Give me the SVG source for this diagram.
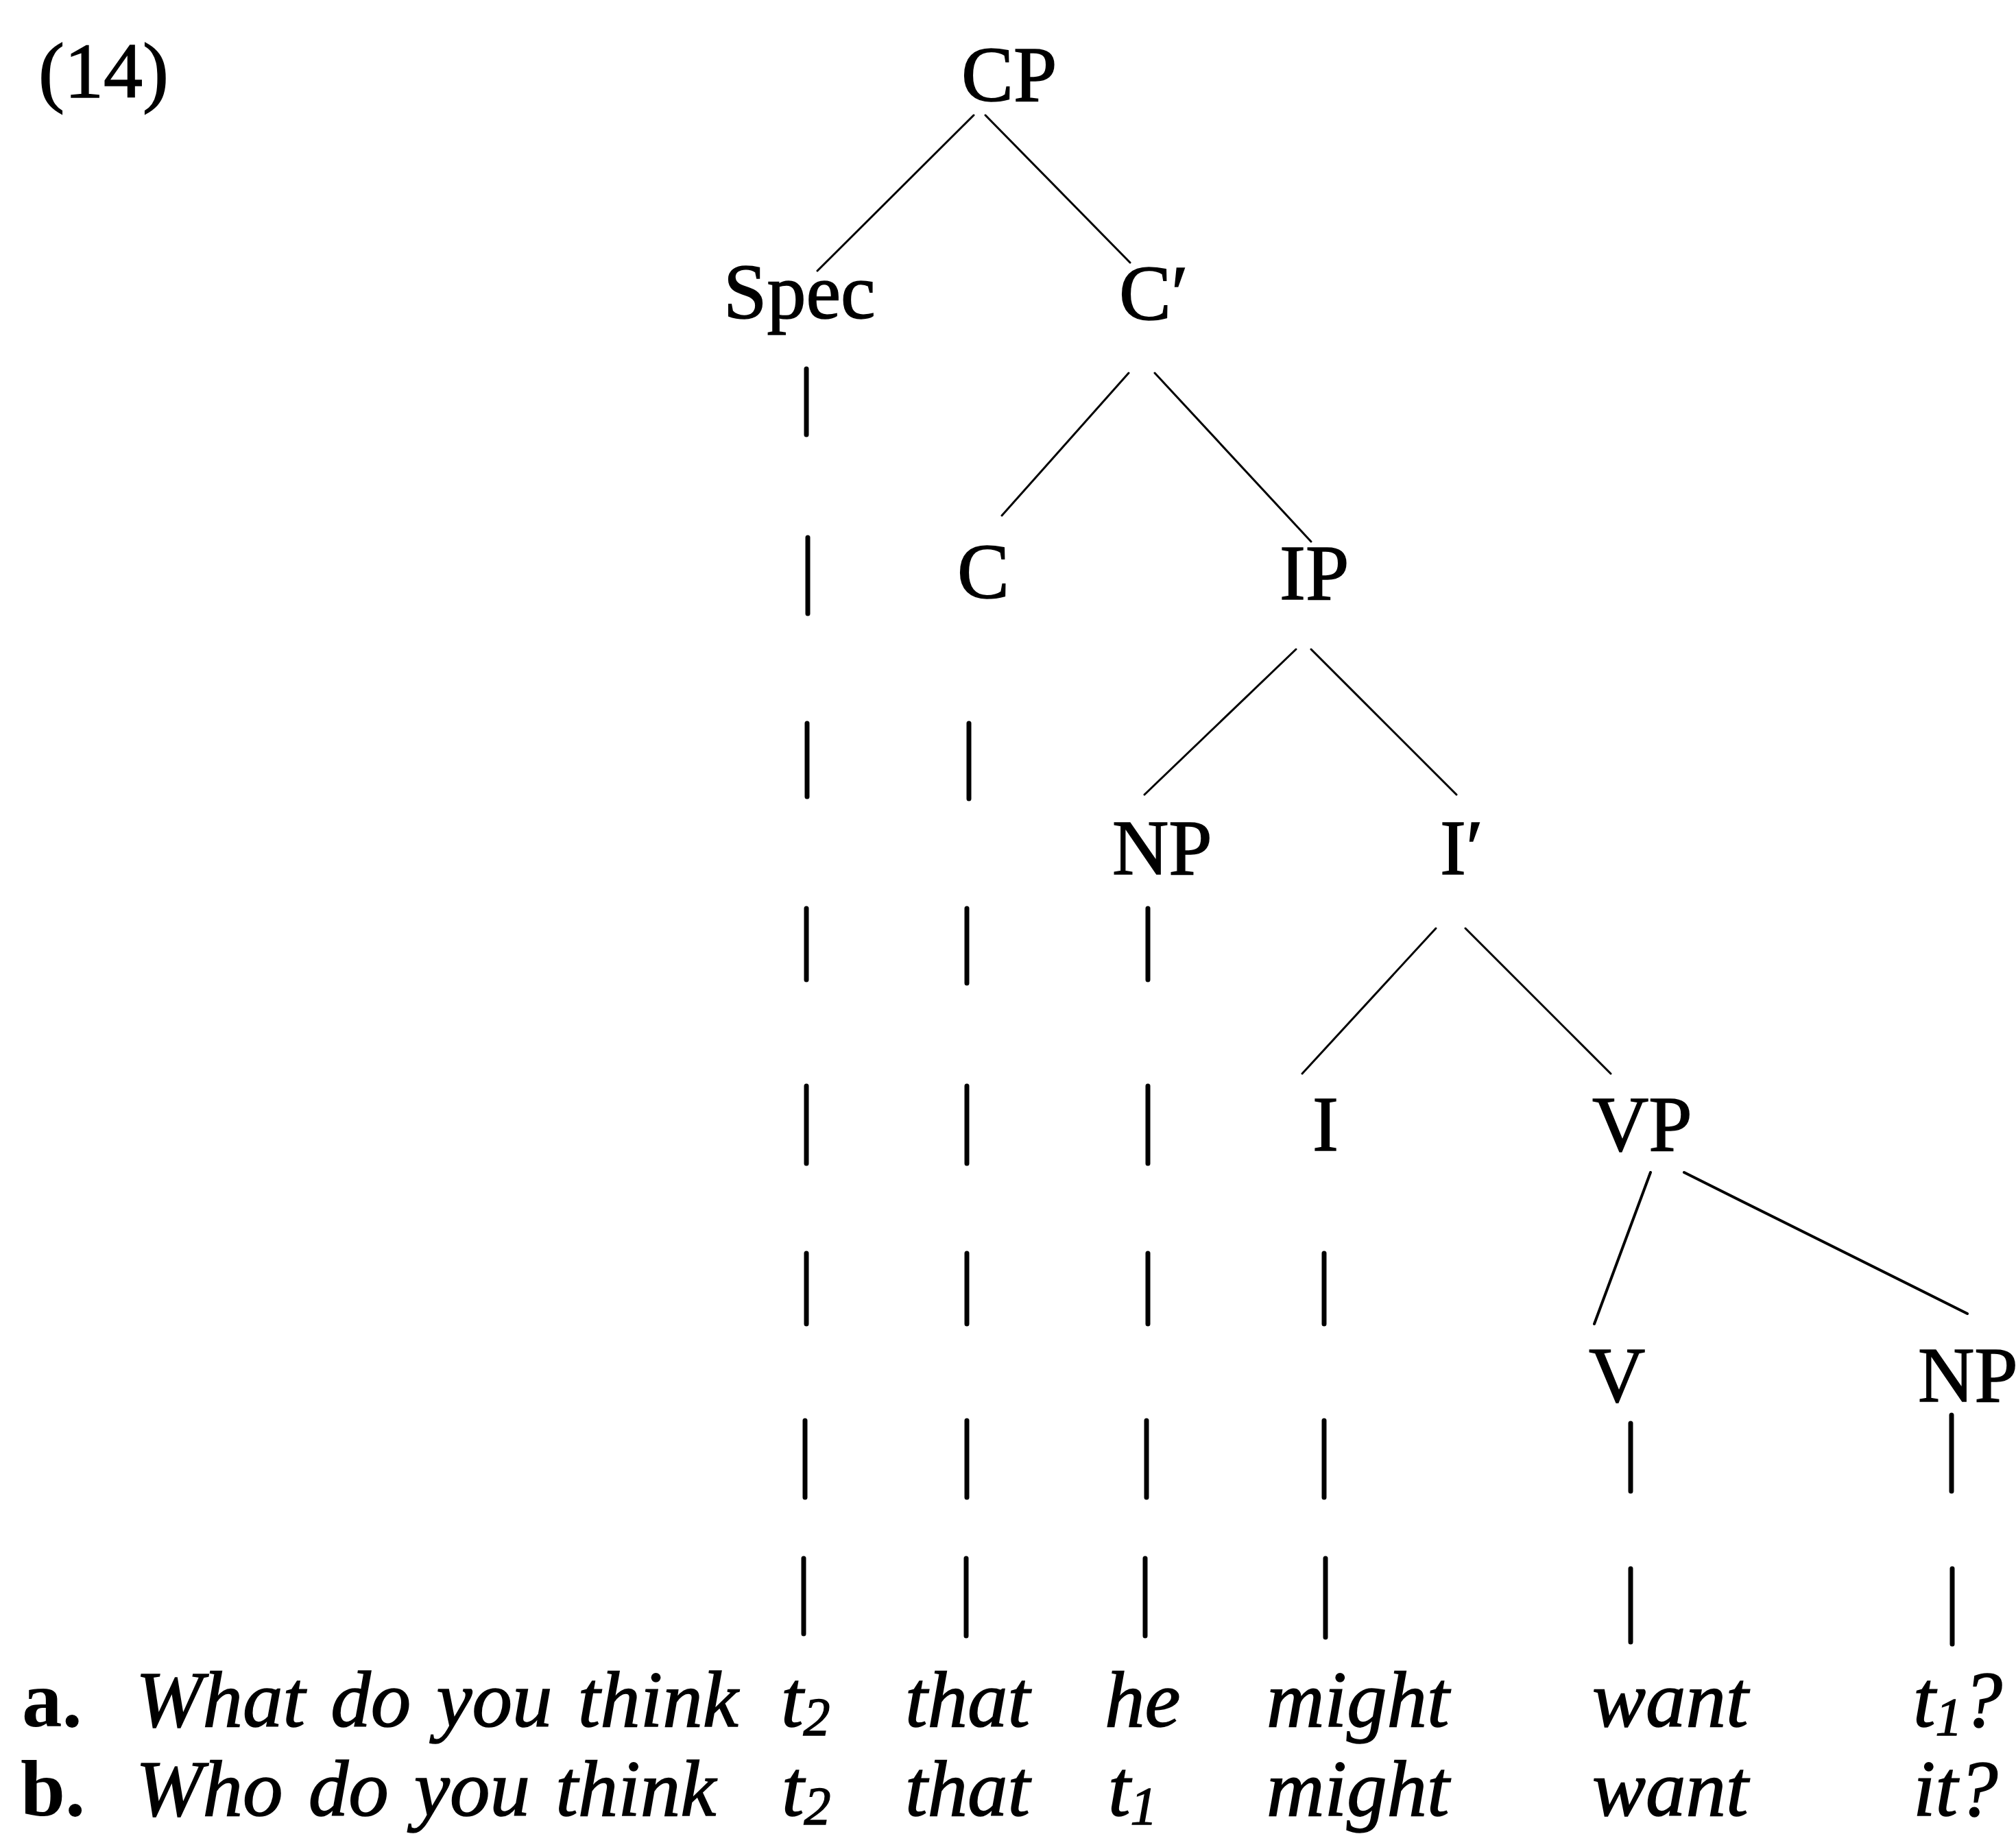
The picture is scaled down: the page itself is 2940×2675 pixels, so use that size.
<svg xmlns="http://www.w3.org/2000/svg" width="2940" height="2675" viewBox="0 0 2940 2675">
<style>
.lab{font-family:"Liberation Serif","Times New Roman",serif;font-size:114px;fill:#000;stroke:#000;stroke-width:1.5}
.it{font-family:"Liberation Serif","Times New Roman",serif;font-size:117px;font-style:italic;fill:#000;stroke:#000;stroke-width:1.5}
.rm{font-family:"Liberation Serif","Times New Roman",serif;font-size:117px;font-weight:bold;fill:#000}
.sub{font-size:78px}
.edge{stroke:#000;stroke-width:3;fill:none;stroke-linecap:round}
.bar{stroke:#000;stroke-width:7;fill:none;stroke-linecap:round}
</style>
<rect width="2940" height="2675" fill="#fff"/>
<text class="lab" x="56" y="142">(14)</text>
<g id="connectors">
<line class="edge" x1="1420" y1="168" x2="1192" y2="395"/>
<line class="edge" x1="1437" y1="168" x2="1648" y2="383"/>
<line class="edge" x1="1646" y1="544" x2="1461" y2="752"/>
<line class="edge" x1="1684" y1="544" x2="1912" y2="790"/>
<line class="edge" x1="1890" y1="947" x2="1669" y2="1159"/>
<line class="edge" x1="1912" y1="947" x2="2124" y2="1159"/>
<line class="edge" x1="2094" y1="1354" x2="1899" y2="1566"/>
<line class="edge" x1="2137" y1="1354" x2="2349" y2="1566"/>
<line class="edge" style="stroke-width:4" x1="2407" y1="1710" x2="2325" y2="1931"/>
<line class="edge" style="stroke-width:4" x1="2456" y1="1710" x2="2869" y2="1916"/>
<g id="bars">
<line class="bar" x1="1176" y1="538" x2="1176" y2="634"/>
<line class="bar" x1="1178" y1="784" x2="1178" y2="895"/>
<line class="bar" x1="1177" y1="1055" x2="1177" y2="1162"/>
<line class="bar" x1="1413" y1="1055" x2="1413" y2="1165"/>
<line class="bar" x1="1176" y1="1325" x2="1176" y2="1429"/>
<line class="bar" x1="1410" y1="1325" x2="1410" y2="1434"/>
<line class="bar" x1="1674" y1="1325" x2="1674" y2="1429"/>
<line class="bar" x1="1176" y1="1584" x2="1176" y2="1697"/>
<line class="bar" x1="1410" y1="1584" x2="1410" y2="1697"/>
<line class="bar" x1="1674" y1="1584" x2="1674" y2="1697"/>
<line class="bar" x1="1176" y1="1828" x2="1176" y2="1931"/>
<line class="bar" x1="1410" y1="1828" x2="1410" y2="1931"/>
<line class="bar" x1="1674" y1="1828" x2="1674" y2="1931"/>
<line class="bar" x1="1931" y1="1828" x2="1931" y2="1931"/>
<line class="bar" x1="1174" y1="2072" x2="1174" y2="2184"/>
<line class="bar" x1="1410" y1="2072" x2="1410" y2="2184"/>
<line class="bar" x1="1672" y1="2072" x2="1672" y2="2184"/>
<line class="bar" x1="1931" y1="2072" x2="1931" y2="2184"/>
<line class="bar" x1="2378" y1="2076" x2="2378" y2="2175"/>
<line class="bar" x1="2846" y1="2064" x2="2846" y2="2175"/>
<line class="bar" x1="1172" y1="2273" x2="1172" y2="2383"/>
<line class="bar" x1="1409" y1="2273" x2="1409" y2="2386"/>
<line class="bar" x1="1670" y1="2273" x2="1670" y2="2386"/>
<line class="bar" x1="1933" y1="2273" x2="1933" y2="2388"/>
<line class="bar" x1="2378" y1="2288" x2="2378" y2="2395"/>
<line class="bar" x1="2847" y1="2288" x2="2847" y2="2398"/>
</g>
</g>
<g id="n-CP"><text class="lab" x="1402" y="147">CP</text></g>
<g id="n-Spec"><text class="lab" x="1055" y="464">Spec</text></g>
<g id="n-Cbar"><text class="lab" x="1632" y="466">C′</text></g>
<g id="n-C"><text class="lab" x="1396" y="872">C</text></g>
<g id="n-IP"><text class="lab" x="1866" y="874">IP</text></g>
<g id="n-NP1"><text class="lab" x="1622" y="1275">NP</text></g>
<g id="n-Ibar"><text class="lab" x="2100" y="1275">I′</text></g>
<g id="n-I"><text class="lab" x="1914" y="1678">I</text></g>
<g id="n-VP"><text class="lab" x="2322" y="1678">VP</text></g>
<g id="n-V"><text class="lab" x="2317" y="2044">V</text></g>
<g id="n-NP2"><text class="lab" x="2797" y="2044">NP</text></g>
<g id="sentence-a">
<text class="rm" x="32" y="2518">a.</text>
<text class="it" x="198" y="2518" word-spacing="8">What do you think</text>
<text class="it" x="1139" y="2518">t<tspan class="sub" dy="12">2</tspan></text>
<text class="it" x="1320" y="2518">that</text>
<text class="it" x="1611" y="2518">he</text>
<text class="it" x="1847" y="2518">might</text>
<text class="it" x="2322" y="2518">want</text>
<text class="it" x="2790" y="2518">t<tspan class="sub" dy="12">1</tspan><tspan dy="-12">?</tspan></text>
</g>
<g id="sentence-b">
<text class="rm" x="30" y="2648">b.</text>
<text class="it" x="198" y="2648" word-spacing="8">Who do you think</text>
<text class="it" x="1140" y="2648">t<tspan class="sub" dy="12">2</tspan></text>
<text class="it" x="1320" y="2648">that</text>
<text class="it" x="1616" y="2648">t<tspan class="sub" dy="12">1</tspan></text>
<text class="it" x="1847" y="2648">might</text>
<text class="it" x="2322" y="2648">want</text>
<text class="it" x="2790" y="2648">it?</text>
</g>
</svg>
